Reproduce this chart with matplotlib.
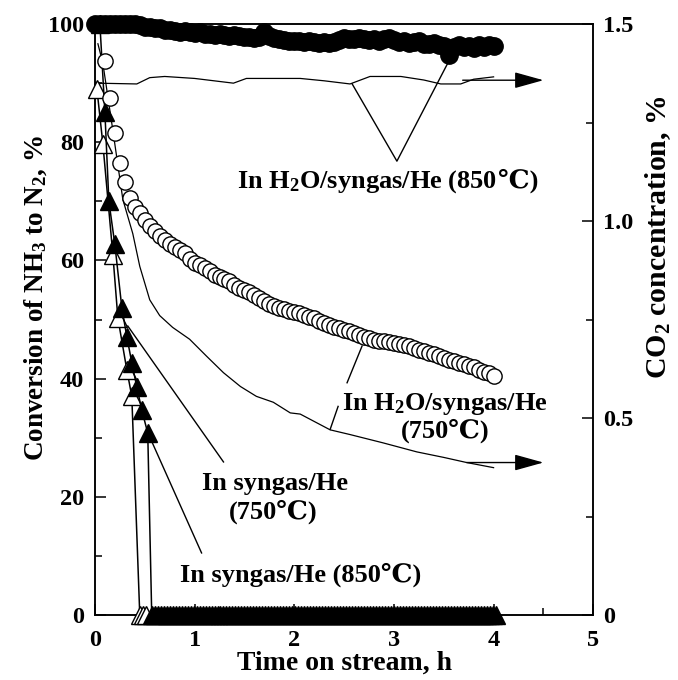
import matplotlib
matplotlib.use("Agg")
import matplotlib.pyplot as plt
import numpy as np
from matplotlib.ticker import MultipleLocator

plt.rcParams['font.family'] = ['Liberation Serif', 'DejaVu Serif', 'Noto Sans CJK JP']
plt.rcParams['font.weight'] = 'bold'
plt.rcParams['axes.labelweight'] = 'bold'
plt.rcParams['mathtext.default'] = 'regular'

# H2O/syngas/He 850C, NH3 conversion (filled circles)
t_fc = np.round(np.arange(0.0, 4.04, 0.05), 2)
conv_fc = [100, 100, 100, 100, 100, 100, 100, 100, 100, 99.8,
           99.5, 99.5, 99.3, 99.3, 99.0, 99.0, 98.8, 98.7, 98.8, 98.6,
           98.5, 98.6, 98.4, 98.3, 98.2, 98.3, 98.1, 98.0, 98.1, 97.9,
           97.8, 97.8, 97.6, 97.8, 98.6, 97.9, 97.6, 97.4, 97.3, 97.2,
           97.1, 97.2, 97.0, 97.2, 97.0, 96.8, 97.0, 96.8, 97.0, 97.3,
           97.6, 97.5, 97.4, 97.6, 97.4, 97.3, 97.4, 97.2, 97.5, 97.6,
           97.3, 97.0, 97.2, 96.8, 96.9, 97.1, 96.7, 96.6, 96.8, 96.5,
           96.3, 94.8, 96.2, 96.4, 96.1, 96.3, 96.0, 96.4, 96.2, 96.4,
           96.3]

# H2O/syngas/He 750C, NH3 conversion (open circles)
t_oc = np.round(np.arange(0.10, 4.01, 0.05), 2)
conv_oc = [93.7, 87.5, 81.5, 76.5, 73.2, 70.5, 69.0, 68.0, 66.8, 65.8,
           65.0, 64.2, 63.4, 62.8, 62.3, 61.8, 61.2, 60.3, 59.6, 59.2,
           58.7, 58.2, 57.6, 57.2, 56.9, 56.5, 55.9, 55.4, 55.0, 54.6,
           54.1, 53.6, 53.1, 52.7, 52.3, 52.0, 51.8, 51.5, 51.3, 51.1,
           50.8, 50.5, 50.2, 49.8, 49.4, 49.1, 48.8, 48.5, 48.3, 48.0,
           47.7, 47.4, 47.1, 46.8, 46.6, 46.4, 46.3, 46.2, 46.1, 45.9,
           45.7, 45.5, 45.2, 44.9, 44.6, 44.3, 44.1, 43.8, 43.5, 43.2,
           42.9, 42.6, 42.4, 42.1, 41.9, 41.5, 41.2, 40.9, 40.5]

# syngas/He 850C (filled triangles) and 750C (open triangles)
t_ft = [0.05, 0.10, 0.14, 0.20, 0.27, 0.32, 0.37, 0.42, 0.47, 0.53]
conv_ft = [100, 85.1, 70.0, 62.7, 52.0, 47.1, 42.7, 38.6, 34.7, 30.8]
t_ot = [0.02, 0.08, 0.18, 0.23, 0.32, 0.37]
conv_ot = [89.0, 79.7, 61.0, 50.3, 41.5, 37.0]
t_zero_ft = np.round(np.arange(0.57, 4.04, 0.03), 2)
t_zero_ot = [0.45, 0.48, 0.51]

# CO2 concentration, %
t_co2_850 = [0.02, 0.42, 0.55, 0.70, 1.00, 1.39, 1.52, 2.06, 2.30, 2.56,
             2.76, 3.07, 3.30, 3.47, 3.67, 3.80, 4.00]
co2_850 = [1.350, 1.348, 1.364, 1.367, 1.362, 1.350, 1.362, 1.362, 1.356, 1.348,
           1.367, 1.367, 1.358, 1.348, 1.348, 1.360, 1.366]
t_co2_750 = [0.03, 0.08, 0.18, 0.28, 0.38, 0.45, 0.55, 0.65, 0.78, 0.95,
             1.12, 1.29, 1.46, 1.62, 1.79, 1.96, 2.06, 2.36, 2.56, 2.89,
             3.23, 3.50, 3.73, 4.00]
co2_750 = [1.45, 1.40, 1.23, 1.055, 0.968, 0.885, 0.80, 0.76, 0.73, 0.70,
           0.657, 0.615, 0.58, 0.555, 0.54, 0.513, 0.51, 0.47, 0.458, 0.437,
           0.414, 0.40, 0.387, 0.374]

fig = plt.figure(figsize=(6.78, 6.80), dpi=100)
ax = fig.add_axes([0.140, 0.0956, 0.735, 0.869])
ax2 = ax.twinx()

# CO2 curves on the right axis
ax2.plot(t_co2_850, co2_850, color='black', lw=0.9, zorder=2)
ax2.plot(t_co2_750, co2_750, color='black', lw=0.9, zorder=2)
ax2.set_ylim(0, 1.5)

ax.set_zorder(ax2.get_zorder() + 1)
ax.patch.set_visible(False)

# conversion series
ax.plot(t_ot + t_zero_ot, conv_ot + [0] * len(t_zero_ot), color='black', lw=1.1,
        marker='^', ms=13, mfc='white', mec='black', mew=1.0, clip_on=False, zorder=3)
ax.plot(t_ft + list(t_zero_ft), conv_ft + [0] * len(t_zero_ft), color='black', lw=1.1,
        marker='^', ms=13, mfc='black', mec='black', clip_on=False, zorder=4)
ax.plot(t_oc, conv_oc, ls='none', marker='o', ms=11, mfc='white', mec='black',
        mew=1.0, clip_on=False, zorder=5)
ax.plot(t_fc, conv_fc, ls='none', marker='o', ms=12.5, mfc='black', mec='black',
        clip_on=False, zorder=6)

ax.set_xlim(0, 5)
ax.set_ylim(0, 100)

# annotation lines
lk = dict(color='black', lw=1.0, zorder=4)
ax.plot([2.58, 3.03, 3.55], [89.9, 76.8, 93.7], **lk)
ax.plot([2.68, 2.53], [45.5, 39.3], **lk)
ax.plot([2.44, 2.36], [35.3, 31.4], **lk)
ax.plot([0.33, 1.29], [48.9, 25.9], **lk)
ax.plot([0.54, 1.07], [30.5, 10.5], **lk)

arrow = dict(arrowstyle='-|>,head_length=0.9,head_width=0.25', color='black', lw=1.0,
             mutation_scale=20, shrinkA=0, shrinkB=0)
ax.annotate('', xy=(4.5, 90.5), xytext=(3.69, 90.5), arrowprops=arrow)
ax.annotate('', xy=(4.5, 25.8), xytext=(3.73, 25.8), arrowprops=arrow)

fs = 19
t1 = ax.text(1.43, 72.3, 'In H$_2$O/syngas/He (850', fontsize=fs, ha='left', va='baseline')
ax.annotate('℃)', xy=(1, 72.3), xycoords=(t1, 'data'), fontsize=fs,
            ha='left', va='baseline')
ax.text(3.51, 34.7, 'In H$_2$O/syngas/He', fontsize=fs, ha='center', va='baseline')
ax.text(3.51, 30.0, '(750℃)', fontsize=fs, ha='center', va='baseline')
ax.text(1.81, 21.2, 'In syngas/He', fontsize=fs, ha='center', va='baseline')
ax.text(1.79, 16.3, '(750℃)', fontsize=fs, ha='center', va='baseline')
ax.text(2.06, 5.6, 'In syngas/He (850℃)', fontsize=fs, ha='center', va='baseline')

# axes styling
ax.xaxis.set_major_locator(MultipleLocator(1))
ax.xaxis.set_minor_locator(MultipleLocator(0.5))
ax.yaxis.set_major_locator(MultipleLocator(20))
ax.yaxis.set_minor_locator(MultipleLocator(10))
ax2.yaxis.set_minor_locator(MultipleLocator(0.25))
ax2.set_yticks([0, 0.5, 1.0, 1.5])
ax2.set_yticklabels(['0', '0.5', '1.0', '1.5'])

for a in (ax, ax2):
    a.tick_params(which='major', direction='in', length=8, width=1.1, labelsize=17.5)
    a.tick_params(which='minor', direction='in', length=5, width=1.1)
    for s in a.spines.values():
        s.set_linewidth(1.1)
ax.tick_params(axis='x', top=False, which='both', pad=11)
ax.tick_params(axis='y', right=False, which='both', pad=8)
ax2.tick_params(axis='y', pad=7)

ax.set_xlabel('Time on stream, h', fontsize=20)
ax.set_ylabel('Conversion of NH$_3$ to N$_2$, %', fontsize=19.5)
ax2.set_ylabel('CO$_2$ concentration, %', fontsize=21.5)
ax.xaxis.set_label_coords(0.5, -0.060)
ax.yaxis.set_label_coords(-0.092, 0.536)
ax2.yaxis.set_label_coords(1.100, 0.640)

fig.savefig('out.png', dpi=100)
